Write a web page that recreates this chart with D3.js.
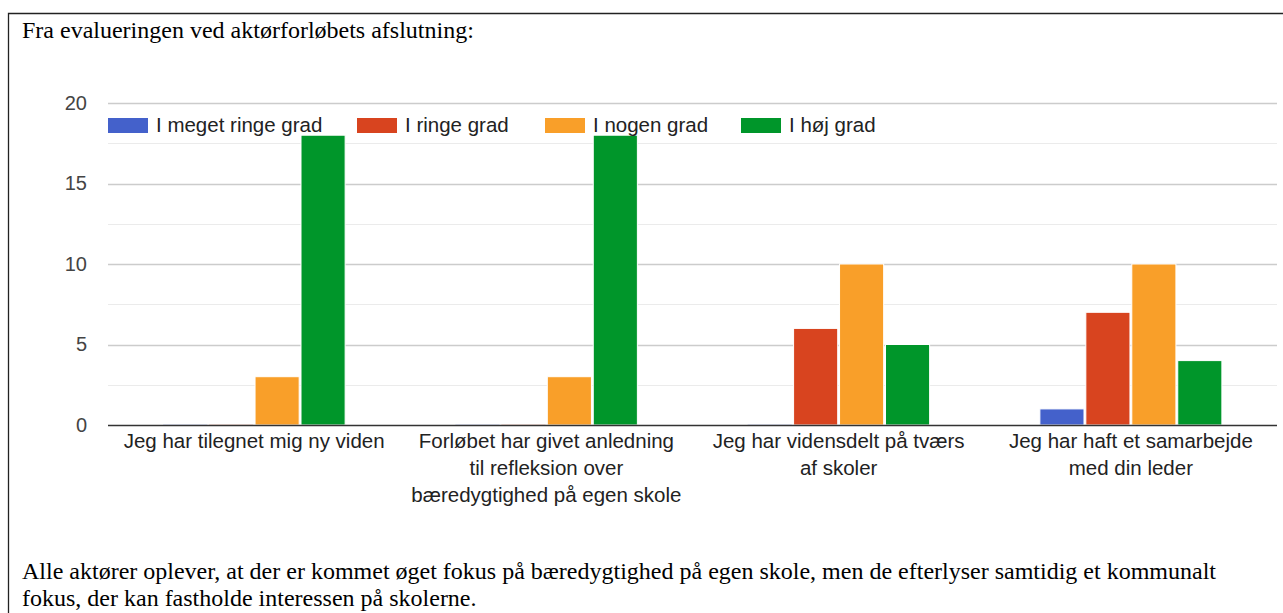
<!DOCTYPE html>
<html>
<head>
<meta charset="utf-8">
<script src="https://cdn.jsdelivr.net/npm/d3@7"></script>
<style>
  body { margin: 0; background: #fff; }
  svg { display: block; }
</style>
</head>
<body>
<div id="chart"></div>
<script>
var categories = [
  ["Jeg har tilegnet mig ny viden"],
  ["Forløbet har givet anledning", "til refleksion over", "bæredygtighed på egen skole"],
  ["Jeg har vidensdelt på tværs", "af skoler"],
  ["Jeg har haft et samarbejde", "med din leder"]
];
var seriesNames = ["I meget ringe grad", "I ringe grad", "I nogen grad", "I høj grad"];
var meget = [0, 0, 0, 1];
var ringe = [0, 0, 6, 7];
var nogen = [3, 3, 10, 10];
var hoej = [18, 18, 5, 4];
var yTicks = [0, 5, 10, 15, 20];
var colors = ["#4461cb", "#d8441f", "#f99f29", "#00962a"];

var series = [meget, ringe, nogen, hoej];
var sans = "Arial, Liberation Sans, sans-serif";
var serif = "Liberation Serif, Times New Roman, serif";

var svg = d3.select("#chart").append("svg")
  .attr("width", 1283)
  .attr("height", 613);

// frame
svg.append("path")
  .attr("d", "M1290,13.5 H8.5 V620")
  .attr("fill", "none")
  .attr("stroke", "#222")
  .attr("stroke-width", 1.3);

svg.append("text")
  .attr("x", 22)
  .attr("y", 38)
  .attr("font-family", serif)
  .attr("font-size", 24)
  .attr("fill", "#000")
  .text("Fra evalueringen ved aktørforløbets afslutning:");

var x0 = d3.scaleBand()
  .domain(d3.range(categories.length))
  .range([108, 1277]);

var groupW = 182;
var x1 = d3.scaleBand()
  .domain(d3.range(series.length))
  .range([-groupW / 2, groupW / 2])
  .paddingInner(0.04);

var y = d3.scaleLinear()
  .domain([0, 20])
  .range([425, 103]);

// minor gridlines
svg.append("g").selectAll("line")
  .data(d3.range(2.5, 20, 5))
  .enter().append("line")
    .attr("x1", 108).attr("x2", 1277)
    .attr("y1", function(d) { return Math.round(y(d)) + 0.5; })
    .attr("y2", function(d) { return Math.round(y(d)) + 0.5; })
    .attr("stroke", "#ebebeb")
    .attr("stroke-width", 1);

// major gridlines
svg.append("g").selectAll("line")
  .data(yTicks.slice(1))
  .enter().append("line")
    .attr("x1", 108).attr("x2", 1277)
    .attr("y1", function(d) { return Math.round(y(d)) + 0.5; })
    .attr("y2", function(d) { return Math.round(y(d)) + 0.5; })
    .attr("stroke", "#cccccc")
    .attr("stroke-width", 1.5);

// y labels
var yAxis = d3.axisLeft(y).tickValues(yTicks).tickSize(0).tickPadding(0);
var yg = svg.append("g")
  .attr("transform", "translate(87,0)")
  .call(yAxis);
yg.select(".domain").remove();
yg.selectAll("text")
  .attr("font-family", sans)
  .attr("font-size", 20)
  .attr("fill", "#444");

// bars
var groups = svg.append("g").selectAll("g")
  .data(categories)
  .enter().append("g")
    .attr("transform", function(d, i) { return "translate(" + (x0(i) + x0.bandwidth() / 2) + ",0)"; });

groups.selectAll("rect")
  .data(function(d, i) { return series.map(function(s, j) { return { s: j, v: s[i] }; }); })
  .enter().append("rect")
    .attr("x", function(d) { return x1(d.s); })
    .attr("width", x1.bandwidth())
    .attr("y", function(d) { return d.v > 0 ? y(d.v) : y(0) - 1; })
    .attr("height", function(d) { return d.v > 0 ? y(0) - y(d.v) : 1; })
    .attr("fill", function(d) { return colors[d.s]; })
    .attr("fill-opacity", function(d) { return d.v > 0 ? 1 : 0.15; })
    .attr("stroke", "#fff")
    .attr("stroke-width", function(d) { return d.v > 0 ? 1 : 0; });

// baseline
svg.append("line")
  .attr("x1", 108).attr("x2", 1277)
  .attr("y1", y(0) + 0.5).attr("y2", y(0) + 0.5)
  .attr("stroke", "#333")
  .attr("stroke-width", 1.5);

// x labels
groups.append("text")
  .attr("text-anchor", "middle")
  .attr("font-family", sans)
  .attr("font-size", 20.5)
  .attr("fill", "#222")
  .selectAll("tspan")
  .data(function(d) { return d; })
  .enter().append("tspan")
    .attr("x", 0)
    .attr("y", function(d, i) { return 448 + i * 27; })
    .text(function(d) { return d; });

// legend
var legendX = [108, 357, 545, 741];
var legend = svg.append("g").selectAll("g")
  .data(seriesNames)
  .enter().append("g")
    .attr("transform", function(d, i) { return "translate(" + legendX[i] + ",118)"; });
legend.append("rect")
  .attr("width", 40).attr("height", 15)
  .attr("fill", function(d, i) { return colors[i]; });
legend.append("text")
  .attr("x", 48).attr("y", 14)
  .attr("font-family", sans)
  .attr("font-size", 20.5)
  .attr("fill", "#222")
  .text(function(d) { return d; });

// note below
var note = ["Alle aktører oplever, at der er kommet øget fokus på bæredygtighed på egen skole, men de efterlyser samtidig et kommunalt",
            "fokus, der kan fastholde interessen på skolerne."];
svg.append("g").selectAll("text")
  .data(note)
  .enter().append("text")
    .attr("x", 22)
    .attr("y", function(d, i) { return 579 + i * 27; })
    .attr("font-family", serif)
    .attr("font-size", 24)
    .attr("fill", "#000")
    .text(function(d) { return d; });
</script>
</body>
</html>
